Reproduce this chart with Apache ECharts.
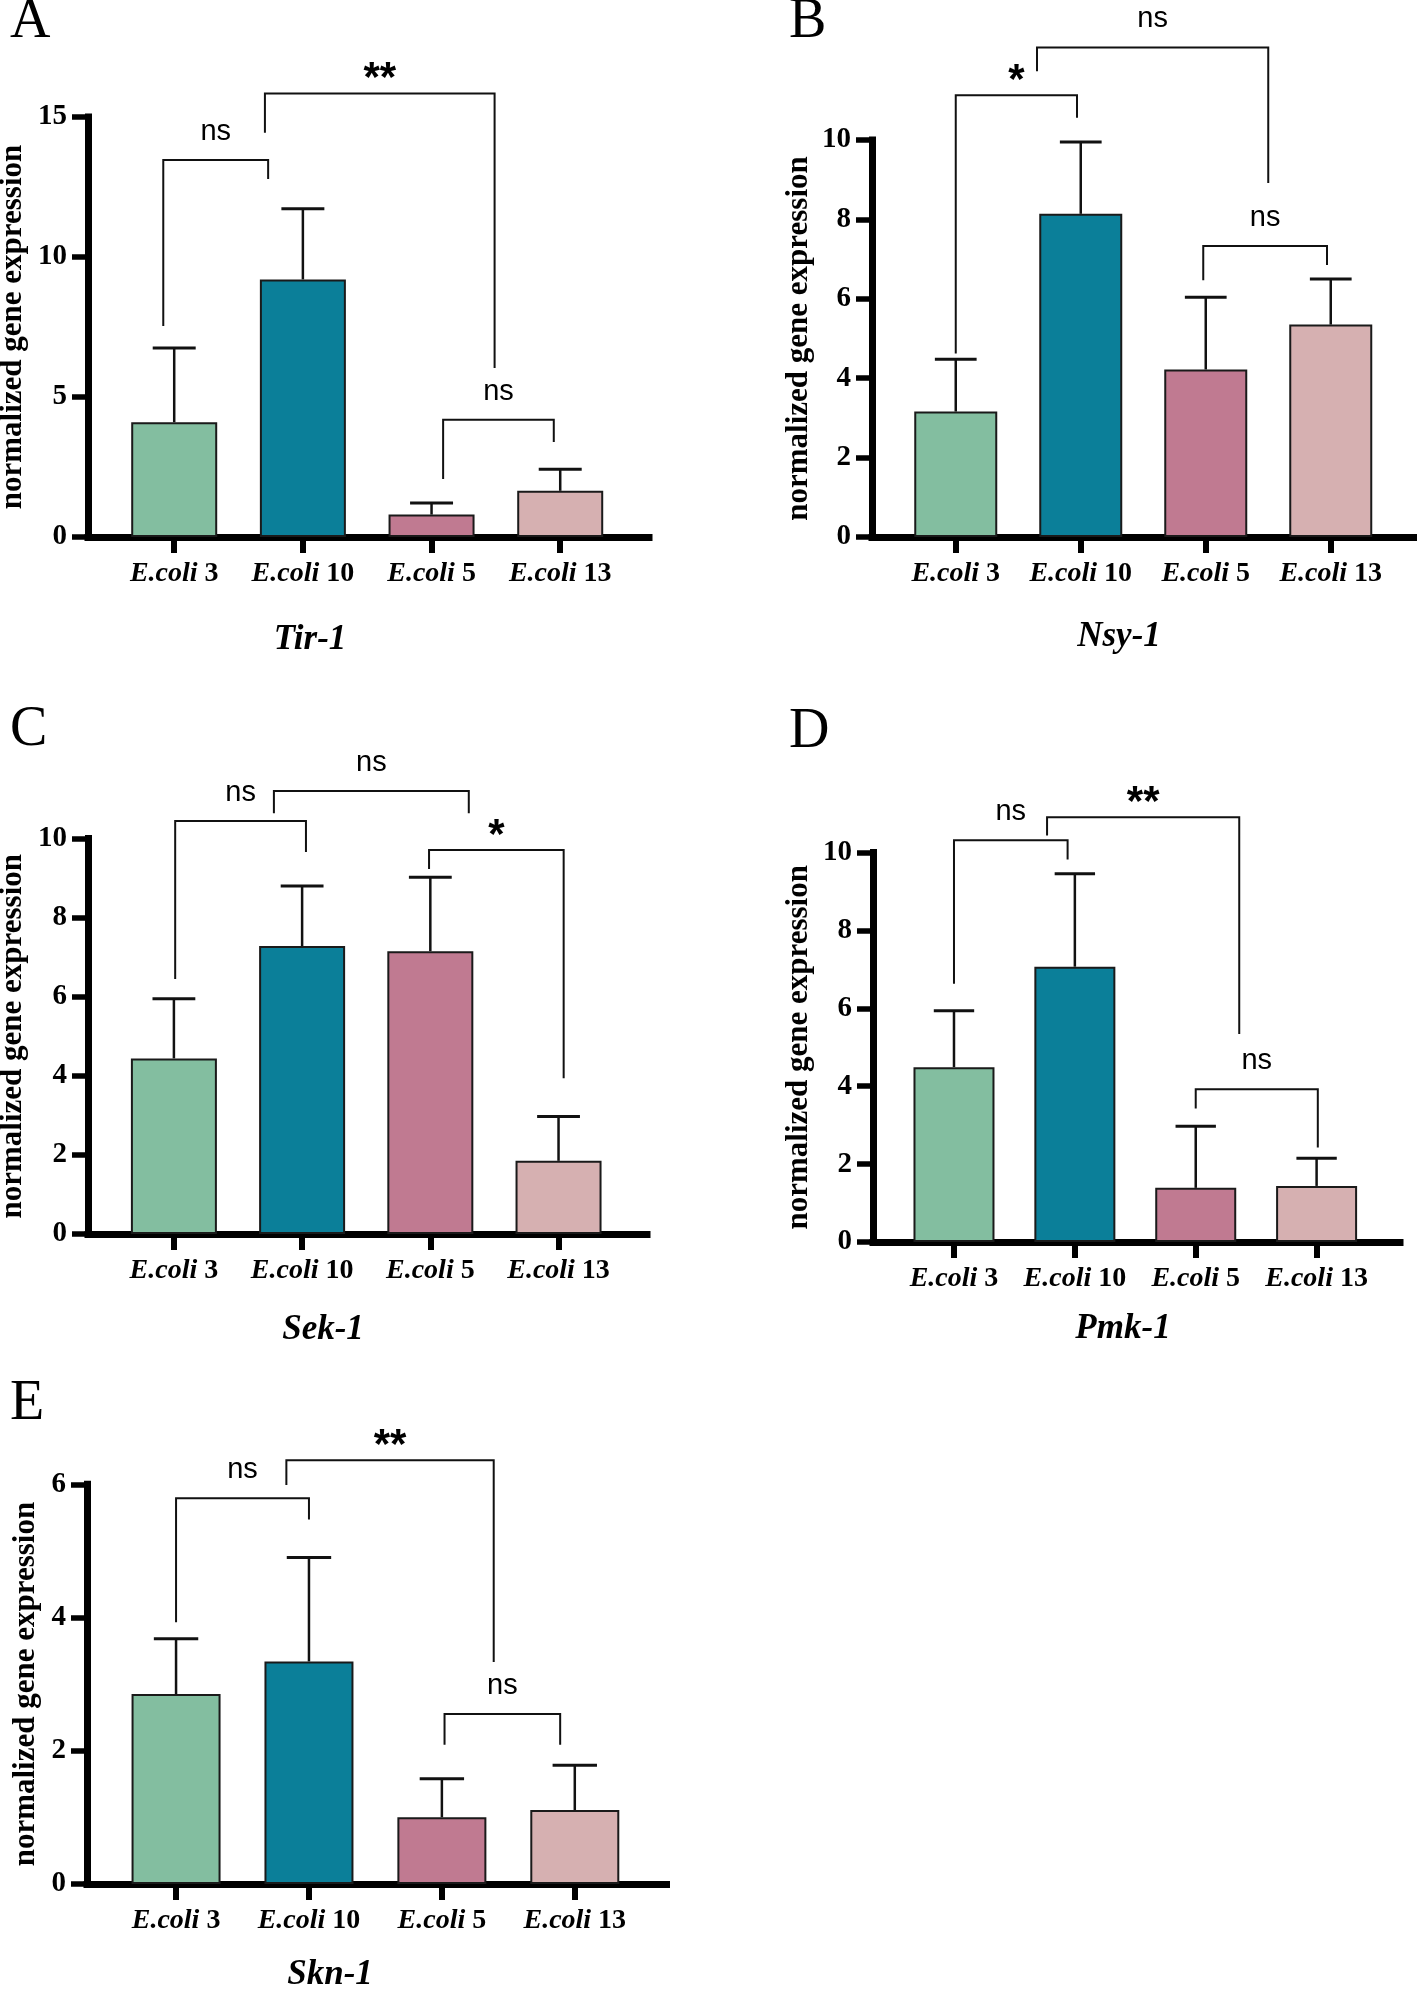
<!DOCTYPE html>
<html><head><meta charset="utf-8">
<script src="https://cdn.jsdelivr.net/npm/echarts@6/dist/echarts.min.js"></script>
<style>html,body{margin:0;padding:0;background:#fff}#c{width:1417px;height:1990px}</style>
</head><body><div id="c"></div>
<script>
// ---------- data ----------
const categories = ['E.coli 3', 'E.coli 10', 'E.coli 5', 'E.coli 13'];
const panelLetters = ['A', 'B', 'C', 'D', 'E'];
const geneNames = ['Tir-1', 'Nsy-1', 'Sek-1', 'Pmk-1', 'Skn-1'];
const yAxisTitle = 'normalized gene expression';

const tirTicks = [0, 5, 10, 15];
const nsyTicks = [0, 2, 4, 6, 8, 10];
const sekTicks = [0, 2, 4, 6, 8, 10];
const pmkTicks = [0, 2, 4, 6, 8, 10];
const sknTicks = [0, 2, 4, 6];

const tirMean = [4.10, 9.20, 0.80, 1.65];
const tirSD   = [2.65, 2.52, 0.41, 0.77];
const nsyMean = [3.16, 8.14, 4.22, 5.35];
const nsySD   = [1.32, 1.81, 1.82, 1.15];
const sekMean = [4.44, 7.28, 7.15, 1.85];
const sekSD   = [1.51, 1.52, 1.87, 1.12];
const pmkMean = [4.49, 7.07, 1.39, 1.44];
const pmkSD   = [1.45, 2.39, 1.58, 0.71];
const sknMean = [2.85, 3.34, 1.00, 1.11];
const sknSD   = [0.83, 1.56, 0.58, 0.67];

// significance brackets: [xStart, xEnd, yTop, yLeftEnd, yRightEnd, label] (data units)
const tirBrackets = [[-0.085, 0.73, 13.46, 7.54, 12.79, 'ns'], [0.705, 2.49, 15.84, 14.44, 6.04, '**'], [2.09, 2.95, 4.19, 2.07, 3.39, 'ns']];
const nsyBrackets = [[0.0, 0.97, 11.13, 4.62, 10.56, '*'], [0.65, 2.50, 12.33, 11.73, 8.92, 'ns'], [1.98, 2.97, 7.33, 6.47, 6.85, 'ns']];
const sekBrackets = [[0.01, 1.03, 10.44, 6.45, 9.66, 'ns'], [0.78, 2.30, 11.20, 10.64, 10.64, 'ns'], [1.99, 3.04, 9.71, 9.23, 3.94, '*']];
const pmkBrackets = [[0.0, 0.94, 10.32, 6.63, 9.82, 'ns'], [0.77, 2.36, 10.91, 10.44, 5.34, '**'], [2.00, 3.01, 3.92, 3.43, 2.43, 'ns']];
const sknBrackets = [[0.0, 1.00, 5.79, 3.93, 5.47, 'ns'], [0.83, 2.39, 6.36, 5.99, 3.33, '**'], [2.02, 2.89, 2.55, 2.09, 2.09, 'ns']];

// ---------- styles / layout ----------
const barColors = ['#83BEA0', '#0B7F99', '#C07A91', '#D6B0B1'];
const SERIF = 'Liberation Serif, Times New Roman, serif';
const SANS = 'Liberation Sans, Arial, sans-serif';
const xMin = -0.67, xMax = 3.69;

const panels = [
  {ticks: tirTicks, mean: tirMean, sd: tirSD, br: tirBrackets, grid: {left: 88, top: 117, width: 561, height: 420}, letter: [10, 22], title: [310, 640], nameGap: 60},
  {ticks: nsyTicks, mean: nsyMean, sd: nsySD, br: nsyBrackets, grid: {left: 872, top: 140, width: 545, height: 397}, letter: [789, 22], title: [1119, 637], nameGap: 58},
  {ticks: sekTicks, mean: sekMean, sd: sekSD, br: sekBrackets, grid: {left: 88, top: 838.5, width: 559, height: 395.5}, letter: [10, 730], title: [323, 1330], nameGap: 60},
  {ticks: pmkTicks, mean: pmkMean, sd: pmkSD, br: pmkBrackets, grid: {left: 873, top: 852.6, width: 527, height: 389.4}, letter: [789, 732], title: [1123, 1329], nameGap: 59},
  {ticks: sknTicks, mean: sknMean, sd: sknSD, br: sknBrackets, grid: {left: 87, top: 1484.3, width: 579.5, height: 399.6}, letter: [10, 1404], title: [330, 1975], nameGap: 46}
];

function catLabel(v) {
  const name = categories[Math.round(v)];
  if (!name) return '';
  const parts = name.split(' ');
  return '{i|' + parts[0] + '}{n| ' + parts[1] + '}';
}

const grids = [], xAxes = [], yAxes = [], series = [], graphics = [];

panels.forEach((p, i) => {
  grids.push(Object.assign({containLabel: false, outerBoundsMode: 'none'}, p.grid));
  xAxes.push({
    type: 'value', gridIndex: i, min: xMin, max: xMax,
    splitLine: {show: false},
    axisLine: {show: true, onZero: false, lineStyle: {color: '#000', width: 7, cap: 'square'}},
    axisTick: {show: true, customValues: [0, 1, 2, 3], length: 16, lineStyle: {color: '#000', width: 6, cap: 'butt'}},
    axisLabel: {
      customValues: [0, 1, 2, 3], margin: 23, formatter: catLabel,
      rich: {
        i: {fontFamily: SERIF, fontStyle: 'italic', fontWeight: 'bold', fontSize: 28, color: '#000'},
        n: {fontFamily: SERIF, fontWeight: 'bold', fontSize: 28, color: '#000'}
      }
    }
  });
  const t = p.ticks;
  yAxes.push({
    type: 'value', gridIndex: i, min: t[0], max: t[t.length - 1], interval: t[1] - t[0],
    splitLine: {show: false},
    axisLine: {show: true, onZero: false, lineStyle: {color: '#000', width: 7, cap: 'square'}},
    axisTick: {show: true, length: 16, lineStyle: {color: '#000', width: 5.5, cap: 'butt'}},
    axisLabel: {margin: 21, fontFamily: SERIF, fontWeight: 'bold', fontSize: 29, color: '#000'},
    name: yAxisTitle, nameLocation: 'middle', nameRotate: 90, nameGap: p.nameGap, nameMoveOverlap: false,
    nameTextStyle: {fontFamily: SERIF, fontWeight: 'bold', fontSize: 31, color: '#000'}
  });
  const unitPx = p.grid.width / (xMax - xMin);
  series.push({
    type: 'bar', xAxisIndex: i, yAxisIndex: i, barWidth: Math.round(unitPx * 0.667),
    animation: false,
    itemStyle: {borderColor: '#1a1a1a', borderWidth: 2},
    data: p.mean.map((m, j) => ({value: [j, m], itemStyle: {color: barColors[j]}}))
  });
  series.push({
    type: 'custom', xAxisIndex: i, yAxisIndex: i, animation: false, clip: false, z: 5,
    data: p.mean.map((m, j) => [j, m, +(m + p.sd[j]).toFixed(3)]),
    renderItem: (params, api) => {
      const p0 = api.coord([api.value(0), api.value(1)]);
      const p1 = api.coord([api.value(0), api.value(2)]);
      const half = api.size([0.167, 0])[0];
      return {type: 'group', children: [
        {type: 'line', shape: {x1: p0[0], y1: p0[1], x2: p1[0], y2: p1[1]}, style: {stroke: '#111', lineWidth: 2.5}},
        {type: 'line', shape: {x1: p1[0] - half, y1: p1[1], x2: p1[0] + half, y2: p1[1]}, style: {stroke: '#111', lineWidth: 3}}
      ]};
    }
  });
  const br = p.br;
  series.push({
    type: 'custom', xAxisIndex: i, yAxisIndex: i, animation: false, clip: false, z: 6,
    data: br.map(b => b.slice(0, 5)),
    renderItem: (params, api) => {
      const lab = br[params.dataIndex][5];
      const a = api.coord([api.value(0), api.value(3)]);
      const b = api.coord([api.value(0), api.value(2)]);
      const c = api.coord([api.value(1), api.value(2)]);
      const d = api.coord([api.value(1), api.value(4)]);
      const star = lab.indexOf('*') >= 0;
      const cx = (b[0] + c[0]) / 2;
      return {type: 'group', children: [
        {type: 'polyline', shape: {points: [a, b, c, d]}, style: {stroke: '#111', lineWidth: 2, fill: null}},
        {type: 'text', style: {
          x: cx, y: b[1] - (star ? 14 : 28), text: lab, align: 'center', verticalAlign: 'middle',
          fontFamily: SANS, fontWeight: star ? 'bold' : 'normal', fontSize: star ? 42 : 29, fill: '#000'
        }}
      ]};
    }
  });
  graphics.push({type: 'text', x: p.letter[0], y: p.letter[1], style: {
    text: panelLetters[i], align: 'left', verticalAlign: 'middle', fontFamily: SERIF, fontSize: 56, fill: '#000'}});
  graphics.push({type: 'text', x: p.title[0], y: p.title[1], style: {
    text: geneNames[i], align: 'center', verticalAlign: 'middle', fontFamily: SERIF, fontStyle: 'italic', fontWeight: 'bold', fontSize: 35, fill: '#000'}});
});

const chart = echarts.init(document.getElementById('c'), null, {renderer: 'canvas'});
chart.setOption({
  backgroundColor: '#fff',
  animation: false,
  grid: grids, xAxis: xAxes, yAxis: yAxes, series: series,
  graphic: graphics
});
</script>
</body></html>
